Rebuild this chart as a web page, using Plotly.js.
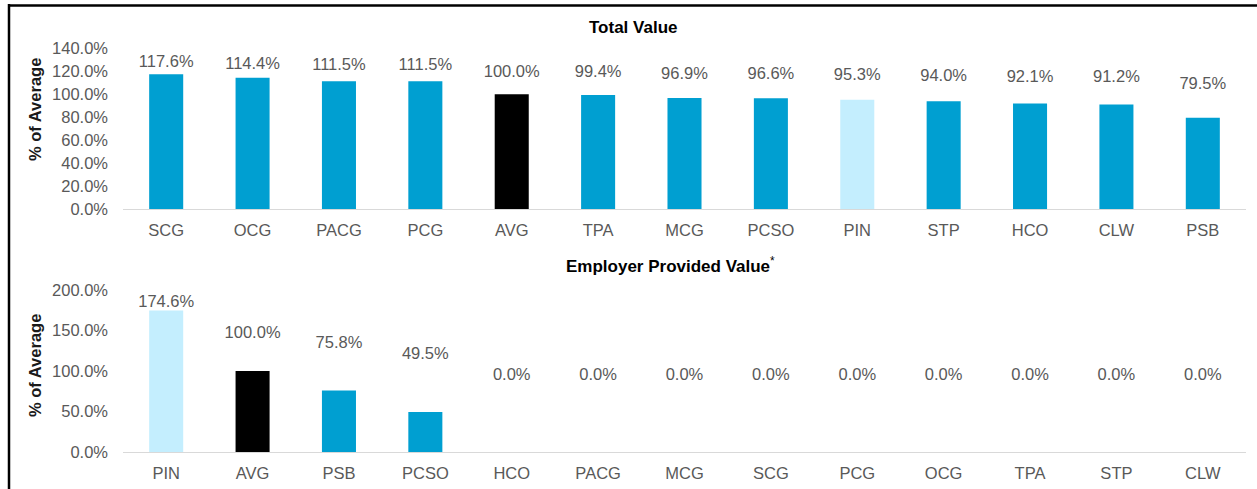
<!DOCTYPE html>
<html>
<head>
<meta charset="utf-8">
<script src="https://cdn.plot.ly/plotly-3.0.1.min.js"></script>
<style>
  html, body { margin: 0; padding: 0; background: #ffffff; }
  #chart { width: 1257px; height: 489px; }
</style>
</head>
<body>
<div id="chart"></div>
<script>
// ---- Data ----
const topTitle = 'Total Value';
const topCategories = ['SCG', 'OCG', 'PACG', 'PCG', 'AVG', 'TPA', 'MCG', 'PCSO', 'PIN', 'STP', 'HCO', 'CLW', 'PSB'];
const topValues = [117.6, 114.4, 111.5, 111.5, 100.0, 99.4, 96.9, 96.6, 95.3, 94.0, 92.1, 91.2, 79.5];

const bottomTitle = 'Employer Provided Value';
const bottomCategories = ['PIN', 'AVG', 'PSB', 'PCSO', 'HCO', 'PACG', 'MCG', 'SCG', 'PCG', 'OCG', 'TPA', 'STP', 'CLW'];
const bottomValues = [174.6, 100.0, 75.8, 49.5, 0.0, 0.0, 0.0, 0.0, 0.0, 0.0, 0.0, 0.0, 0.0];

const yAxisTitle = '% of Average';

// ---- Styling ----
const W = 1257, H = 489;
const BLUE = '#009FD1', LIGHT = '#C4EEFE', BLACK = '#000000';
const GRAY = '#595959';
const FONT = 'Liberation Sans, Arial, sans-serif';
function colorFor(c) { return c === 'AVG' ? BLACK : (c === 'PIN' ? LIGHT : BLUE); }
function px(x) { return x / W; }
function py(y) { return (H - y) / H; }
const fmt = v => v.toFixed(1) + '%';

const xDom = [px(123), px(1246)];
const topDom = [py(209), py(48.5)];
const botDom = [py(452), py(290)];

const traces = [
  { type: 'bar', x: topCategories, y: topValues, xaxis: 'x', yaxis: 'y',
    marker: { color: topCategories.map(colorFor) }, hoverinfo: 'skip', showlegend: false },
  { type: 'scatter', mode: 'text', x: topCategories, y: topValues, xaxis: 'x', yaxis: 'y3',
    text: topValues.map(fmt), textposition: 'middle center', cliponaxis: false,
    textfont: { family: FONT, size: 16.5, color: GRAY }, hoverinfo: 'skip', showlegend: false },
  { type: 'bar', x: bottomCategories, y: bottomValues, xaxis: 'x2', yaxis: 'y2',
    marker: { color: bottomCategories.map(colorFor) }, hoverinfo: 'skip', showlegend: false },
  { type: 'scatter', mode: 'text', x: bottomCategories, y: bottomValues, xaxis: 'x2', yaxis: 'y4',
    text: bottomValues.map(fmt), textposition: 'middle center', cliponaxis: false,
    textfont: { family: FONT, size: 16.5, color: GRAY }, hoverinfo: 'skip', showlegend: false }
];

const tickFont = { family: FONT, size: 16.5, color: GRAY };
const xBase = { type: 'category', domain: xDom, range: [-0.5, 12.5], autorange: false,
  showline: true, linecolor: '#D9D9D9', linewidth: 1.3,
  showgrid: false, zeroline: false, ticks: '', tickfont: tickFont, ticklabelstandoff: 6, fixedrange: true };
const yBase = { showgrid: false, zeroline: false, showline: false, ticks: '', tickfont: tickFont,
  ticksuffix: '%', tickformat: '.1f', ticklabelstandoff: 14, fixedrange: true };

const layout = {
  width: W, height: H,
  margin: { l: 0, r: 0, t: 0, b: 0, pad: 0 },
  paper_bgcolor: '#ffffff', plot_bgcolor: 'rgba(0,0,0,0)',
  bargap: 0.606,
  showlegend: false,
  font: { family: FONT },
  xaxis: Object.assign({}, xBase, { anchor: 'y' }),
  xaxis2: Object.assign({}, xBase, { anchor: 'y2' }),
  yaxis: Object.assign({}, yBase, { domain: topDom, range: [0, 140], dtick: 20, tick0: 0, anchor: 'x' }),
  yaxis2: Object.assign({}, yBase, { domain: botDom, range: [0, 200], dtick: 50, tick0: 0, anchor: 'x2' }),
  yaxis3: { overlaying: 'y', range: [-134.5, 142.2], visible: false, fixedrange: true },
  yaxis4: { overlaying: 'y2', range: [-181.8, 205.7], visible: false, fixedrange: true },
  annotations: [
    { text: '<b>' + topTitle + '</b>', xref: 'paper', yref: 'paper', x: px(633), y: py(28),
      xanchor: 'center', yanchor: 'middle', showarrow: false,
      font: { family: FONT, size: 17, color: '#000000' } },
    { text: '<b>' + bottomTitle + '</b><sup>*</sup>', xref: 'paper', yref: 'paper', x: px(670), y: py(265),
      xanchor: 'center', yanchor: 'middle', showarrow: false,
      font: { family: FONT, size: 17, color: '#000000' } },
    { text: '<b>' + yAxisTitle + '</b>', xref: 'paper', yref: 'paper', x: px(35), y: py(110),
      xanchor: 'center', yanchor: 'middle', showarrow: false, textangle: -90,
      font: { family: FONT, size: 16.5, color: '#1a1a1a' } },
    { text: '<b>' + yAxisTitle + '</b>', xref: 'paper', yref: 'paper', x: px(35), y: py(366),
      xanchor: 'center', yanchor: 'middle', showarrow: false, textangle: -90,
      font: { family: FONT, size: 16.5, color: '#1a1a1a' } }
  ],
  shapes: [
    { type: 'line', xref: 'paper', yref: 'paper', x0: px(9), x1: px(9), y0: 0, y1: py(4),
      line: { color: '#000000', width: 2.5 } },
    { type: 'line', xref: 'paper', yref: 'paper', x0: px(8), x1: 1, y0: py(5.5), y1: py(5.5),
      line: { color: '#000000', width: 2.5 } }
  ]
};

Plotly.newPlot('chart', traces, layout, { displayModeBar: false, staticPlot: true });
</script>
</body>
</html>
